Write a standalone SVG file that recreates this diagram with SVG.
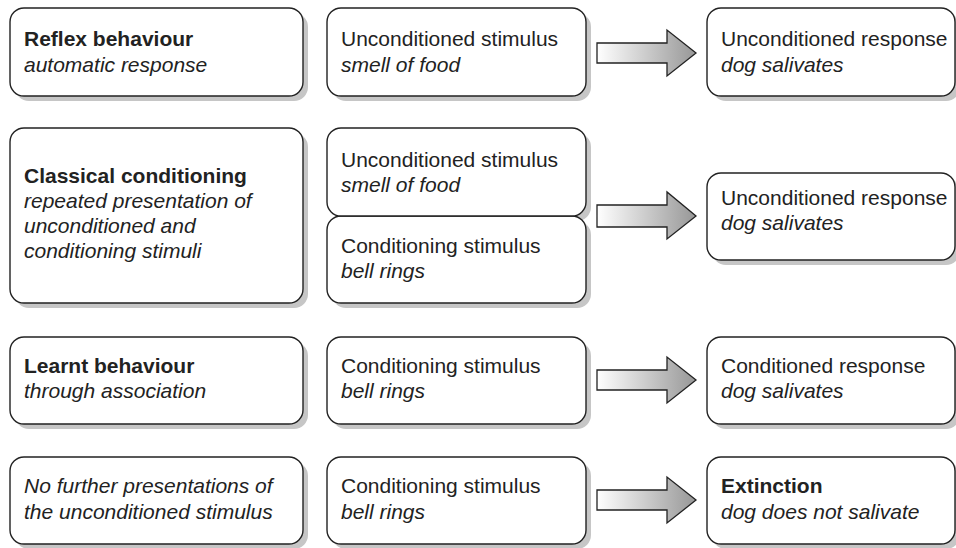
<svg xmlns="http://www.w3.org/2000/svg" width="956" height="548" viewBox="0 0 956 548">
<defs>
<linearGradient id="ag" x1="0" y1="0" x2="1" y2="0">
<stop offset="0" stop-color="#ffffff"/>
<stop offset="1" stop-color="#979797"/>
</linearGradient>
</defs>
<style>
.sh{fill:#c6c6c6;}
.bx{fill:#ffffff;stroke:#222;stroke-width:1.4;}
text{font-family:"Liberation Sans",Arial,sans-serif;font-size:21px;fill:#222;}
.b{font-weight:bold;}
.i{font-style:italic;}
.ar{fill:url(#ag);stroke:#222;stroke-width:1.3;stroke-linejoin:miter;}
</style>
<rect width="956" height="548" fill="#ffffff"/>
<g id="shadows">
<rect class="sh" x="15" y="13" width="293" height="88" rx="14"/>
<rect class="sh" x="332" y="13" width="259" height="88" rx="14"/>
<rect class="sh" x="712" y="13" width="248" height="88" rx="14"/>
<rect class="sh" x="15" y="133" width="293" height="175" rx="14"/>
<rect class="sh" x="332" y="133" width="259" height="88" rx="14"/>
<rect class="sh" x="332" y="221" width="259" height="87" rx="14"/>
<rect class="sh" x="712" y="178" width="248" height="87" rx="14"/>
<rect class="sh" x="15" y="342" width="293" height="87" rx="14"/>
<rect class="sh" x="332" y="342" width="259" height="87" rx="14"/>
<rect class="sh" x="712" y="342" width="248" height="87" rx="14"/>
<rect class="sh" x="15" y="462" width="293" height="87" rx="14"/>
<rect class="sh" x="332" y="462" width="259" height="87" rx="14"/>
<rect class="sh" x="712" y="462" width="248" height="87" rx="14"/>
</g>
<g id="connectors">
<path class="ar" d="M597,43 H667 V30 L696,53 L667,76 V63 H597 Z"/>
<path class="ar" d="M597,205 H667 V192 L696,216 L667,239 V227 H597 Z"/>
<path class="ar" d="M597,370 H667 V357 L696,380 L667,403 V390 H597 Z"/>
<path class="ar" d="M597,490 H667 V477 L696,500 L667,523 V510 H597 Z"/>
</g>
<g id="reflex">
<rect class="bx" x="10" y="8" width="293" height="88" rx="14"/>
<text x="24" y="46" class="b">Reflex behaviour</text>
<text x="24" y="72" class="i">automatic response</text>
</g>
<g id="us1">
<rect class="bx" x="327" y="8" width="259" height="88" rx="14"/>
<text x="341" y="46">Unconditioned stimulus</text>
<text x="341" y="72" class="i">smell of food</text>
</g>
<g id="ur1">
<rect class="bx" x="707" y="8" width="248" height="88" rx="14"/>
<text x="721" y="46">Unconditioned response</text>
<text x="721" y="72" class="i">dog salivates</text>
</g>
<g id="classical">
<rect class="bx" x="10" y="128" width="293" height="175" rx="14"/>
<text x="24" y="183" class="b">Classical conditioning</text>
<text x="24" y="208" class="i">repeated presentation of</text>
<text x="24" y="233" class="i">unconditioned and</text>
<text x="24" y="258" class="i">conditioning stimuli</text>
</g>
<g id="cs2">
<rect class="bx" x="327" y="216" width="259" height="87" rx="14"/>
<text x="341" y="253">Conditioning stimulus</text>
<text x="341" y="278" class="i">bell rings</text>
</g>
<g id="us2">
<rect class="bx" x="327" y="128" width="259" height="88" rx="14"/>
<text x="341" y="167">Unconditioned stimulus</text>
<text x="341" y="192" class="i">smell of food</text>
</g>
<g id="ur2">
<rect class="bx" x="707" y="173" width="248" height="87" rx="14"/>
<text x="721" y="205">Unconditioned response</text>
<text x="721" y="230" class="i">dog salivates</text>
</g>
<g id="learnt">
<rect class="bx" x="10" y="337" width="293" height="87" rx="14"/>
<text x="24" y="373" class="b">Learnt behaviour</text>
<text x="24" y="398" class="i">through association</text>
</g>
<g id="cs3">
<rect class="bx" x="327" y="337" width="259" height="87" rx="14"/>
<text x="341" y="373">Conditioning stimulus</text>
<text x="341" y="398" class="i">bell rings</text>
</g>
<g id="cr3">
<rect class="bx" x="707" y="337" width="248" height="87" rx="14"/>
<text x="721" y="373">Conditioned response</text>
<text x="721" y="398" class="i">dog salivates</text>
</g>
<g id="nofurther">
<rect class="bx" x="10" y="457" width="293" height="87" rx="14"/>
<text x="24" y="493" class="i">No further presentations of</text>
<text x="24" y="519" class="i">the unconditioned stimulus</text>
</g>
<g id="cs4">
<rect class="bx" x="327" y="457" width="259" height="87" rx="14"/>
<text x="341" y="493">Conditioning stimulus</text>
<text x="341" y="519" class="i">bell rings</text>
</g>
<g id="extinction">
<rect class="bx" x="707" y="457" width="248" height="87" rx="14"/>
<text x="721" y="493" class="b">Extinction</text>
<text x="721" y="519" class="i">dog does not salivate</text>
</g>
</svg>
